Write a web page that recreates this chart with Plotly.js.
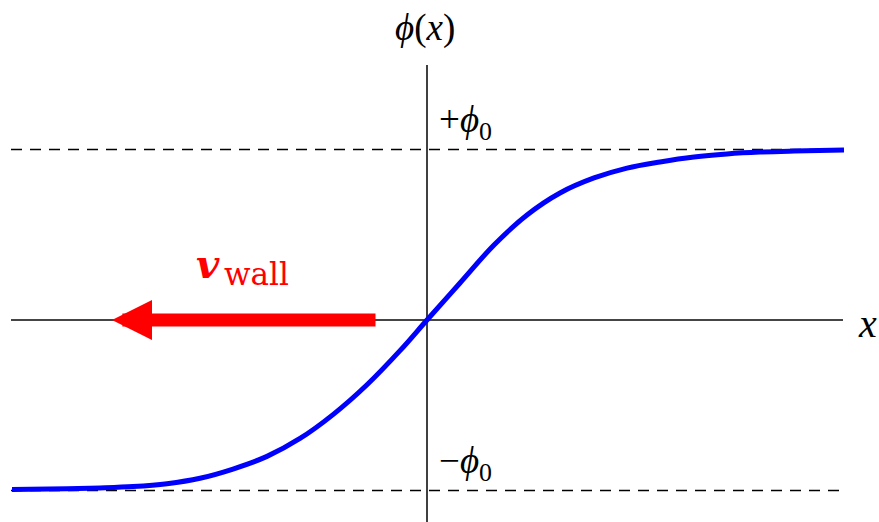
<!DOCTYPE html>
<html>
<head>
<meta charset="utf-8">
<script src="https://cdn.plot.ly/plotly-3.0.1.min.js"></script>
<style>
  html, body { margin: 0; padding: 0; background: #ffffff; }
  #wall { width: 879px; height: 522px; }
</style>
</head>
<body>
<div id="wall"></div>
<script>
// Domain-wall profile phi(x), in units of phi0, sampled along x.
const xs = [-4.15, -3.60, -3.27, -2.94, -2.60, -2.27, -1.94, -1.60, -1.27, -0.94, -0.60, -0.27,
            0.00, 0.33, 0.67, 1.00, 1.33, 1.67, 2.00, 2.33, 2.67, 3.00, 3.33, 3.67, 4.17];
const phi = [-0.994, -0.990, -0.985, -0.977, -0.960, -0.928, -0.874, -0.800, -0.695, -0.555, -0.380, -0.180,
             0.000, 0.217, 0.440, 0.616, 0.745, 0.833, 0.891, 0.927, 0.956, 0.974, 0.985, 0.991, 0.997];

// Vacuum values +phi0 / -phi0
const vacua = [1, -1];

// Extent of the drawn axes and guide lines
const xLeft = -4.16, xRight = 4.16, dashRight = 4.18;
const yAxisTop = 1.496;
const xRange = [-4.27, 4.52];
const yRange = [-1.1848, 1.8768];

// Wall motion arrow: tail and tip on the x axis
const arrowTail = -0.50, arrowTip = -3.15;

const curve = {
  x: xs, y: phi, type: 'scatter', mode: 'lines',
  line: { color: '#0000ff', width: 5, shape: 'spline', smoothing: 1 },
  hoverinfo: 'skip'
};

const shapes = [
  // horizontal x axis
  { type: 'line', xref: 'x', yref: 'y', x0: xLeft, x1: xRight, y0: 0, y1: 0,
    line: { color: '#454545', width: 2 }, layer: 'below' },
  // vertical phi axis
  { type: 'line', xref: 'x', yref: 'y', x0: 0, x1: 0, y0: yRange[0], y1: yAxisTop,
    line: { color: '#000000', width: 1.5 }, layer: 'below' }
];
vacua.forEach(v => shapes.push({
  type: 'line', xref: 'x', yref: 'y', x0: xLeft, x1: dashRight, y0: v, y1: v,
  line: { color: '#000000', width: 1.3, dash: '11px,8px' }, layer: 'below'
}));

const serif = 'Liberation Serif, Times New Roman, serif';
const annotations = [
  { x: -0.02, y: 1.713, xref: 'x', yref: 'y', showarrow: false,
    text: '<i>ϕ</i>(<i>x</i>)', font: { family: serif, size: 37, color: '#000' },
    xanchor: 'center', yanchor: 'middle' },
  { x: 0.10, y: 1.16, xref: 'x', yref: 'y', showarrow: false,
    text: '+<i>ϕ</i><sub>0</sub>', font: { family: serif, size: 37, color: '#000' },
    xanchor: 'left', yanchor: 'middle' },
  { x: 0.10, y: -0.84, xref: 'x', yref: 'y', showarrow: false,
    text: '−<i>ϕ</i><sub>0</sub>', font: { family: serif, size: 37, color: '#000' },
    xanchor: 'left', yanchor: 'middle' },
  { x: 4.40, y: -0.02, xref: 'x', yref: 'y', showarrow: false,
    text: '<i>x</i>', font: { family: serif, size: 40, color: '#000' },
    xanchor: 'center', yanchor: 'middle' },
  // v_wall label
  { x: -2.19, y: 0.33, xref: 'x', yref: 'y', showarrow: false,
    text: '<b><i>v</i></b>', font: { family: 'DejaVu Serif, serif', size: 40, color: '#ff0000' },
    xanchor: 'center', yanchor: 'middle' },
  { x: -2.05, y: 0.27, xref: 'x', yref: 'y', showarrow: false,
    text: 'wall', font: { family: 'DejaVu Serif, serif', size: 31, color: '#ff0000' },
    xanchor: 'left', yanchor: 'middle' },
  // arrow showing the wall moving to the left
  { x: arrowTip, y: 0, ax: arrowTail, ay: 0, xref: 'x', yref: 'y', axref: 'x', ayref: 'y',
    text: '', showarrow: true, arrowhead: 2, arrowsize: 0.615, arrowwidth: 13,
    arrowcolor: '#ff0000', standoff: 0 }
];

const layout = {
  width: 879, height: 522,
  margin: { l: 0, r: 0, t: 0, b: 0 },
  paper_bgcolor: '#ffffff', plot_bgcolor: '#ffffff',
  showlegend: false,
  xaxis: { range: xRange, visible: false, fixedrange: true },
  yaxis: { range: yRange, visible: false, fixedrange: true },
  shapes: shapes,
  annotations: annotations
};

Plotly.newPlot('wall', [curve], layout, { displayModeBar: false, staticPlot: true });
</script>
</body>
</html>
